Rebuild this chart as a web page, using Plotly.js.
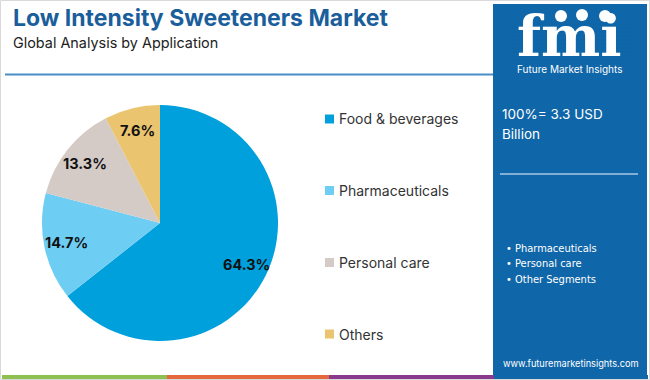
<!DOCTYPE html>
<html>
<head>
<meta charset="utf-8">
<script src="https://cdn.plot.ly/plotly-3.0.1.min.js"></script>
<style>html,body{margin:0;padding:0;background:#fff;}#chart{width:650px;height:380px;}</style>
</head>
<body>
<div id="chart"></div>
<script>
var categories = ["Food & beverages", "Pharmaceuticals", "Personal care", "Others"];
var shares = [64.3, 14.7, 13.3, 7.6];
var sliceColors = ["#00A0DC", "#6DCDF3", "#D5CBC6", "#EBC46F"];
var panelBullets = ["Pharmaceuticals", "Personal care", "Other Segments"];
var titleText = "Low Intensity Sweeteners Market";
var subtitleText = "Global Analysis by Application";
var totalLines = ["100%= 3.3 USD", "Billion"];

var W = 650, H = 380;
function px(x){ return x / W; }
function py(y){ return 1 - y / H; }

var panelBlue = "#0F66A8";
var FONT = "Inter, 'Open Sans', sans-serif";
var NARROW = "'Liberation Sans Narrow', 'DejaVu Sans Condensed', 'Open Sans', sans-serif";

// pie geometry (paper pixels)
var pieCx = 160, pieCy = 223, pieR = 118;
var labelFrac = 0.81;

var trace = {
  type: "pie",
  labels: categories,
  values: shares,
  marker: {colors: sliceColors, line: {width: 0}},
  sort: false,
  direction: "clockwise",
  rotation: 0,
  textinfo: "none",
  hoverinfo: "none",
  showlegend: false,
  domain: {x: [px(pieCx - pieR), px(pieCx + pieR)], y: [py(pieCy + pieR), py(pieCy - pieR)]}
};

var shapes = [];
var annotations = [];

// slice labels placed at the mid-angle of each slice
var total = shares.reduce(function(a, b){ return a + b; }, 0);
var cum = 0;
shares.forEach(function(v){
  var mid = (cum + v / 2) / total * 2 * Math.PI;
  cum += v;
  var x = pieCx + Math.sin(mid) * pieR * labelFrac;
  var y = pieCy - Math.cos(mid) * pieR * labelFrac;
  annotations.push({xref: "paper", yref: "paper", x: px(x), y: py(y), xanchor: "center", yanchor: "middle", showarrow: false, text: v.toFixed(1) + "%", font: {family: FONT, size: 14.5, color: "#111", weight: 700}});
});

// outer frame
shapes.push({type: "rect", xref: "paper", yref: "paper", x0: px(0.5), x1: px(649.5), y0: py(379.5), y1: py(0.5), line: {color: "#D9D9D9", width: 1}, layer: "below"});
// header separator
shapes.push({type: "line", xref: "paper", yref: "paper", x0: px(5), x1: px(493), y0: py(74.5), y1: py(74.5), line: {color: "#4A8DC8", width: 2}});
// bottom stripes
var stripes = [[2, 167, "#8CC152"], [167, 329, "#E4683B"], [329, 494, "#8A3A8D"], [494, 648, "#0F66A8"]];
stripes.forEach(function(s){
  shapes.push({type: "rect", xref: "paper", yref: "paper", x0: px(s[0]), x1: px(s[1]), y0: py(379), y1: py(375), line: {width: 0}, fillcolor: s[2]});
});
// right panel
shapes.push({type: "rect", xref: "paper", yref: "paper", x0: px(493), x1: px(647), y0: py(376), y1: py(4), line: {width: 0}, fillcolor: panelBlue, layer: "below"});
// panel separator
shapes.push({type: "line", xref: "paper", yref: "paper", x0: px(500), x1: px(638), y0: py(174), y1: py(174), line: {color: "#A9C9E6", width: 1.5}});

// title / subtitle
annotations.push({xref: "paper", yref: "paper", x: px(11), y: py(18), xanchor: "left", yanchor: "middle", showarrow: false, text: titleText, font: {family: FONT, size: 23, color: "#1A5E9C", weight: 700}});
annotations.push({xref: "paper", yref: "paper", x: px(11), y: py(42), xanchor: "left", yanchor: "middle", showarrow: false, text: subtitleText, font: {family: FONT, size: 14.4, color: "#222"}});

// legend
var legendY = [119, 190.5, 262.5, 334];
categories.forEach(function(c, i){
  var y = legendY[i];
  shapes.push({type: "rect", xref: "paper", yref: "paper", x0: px(325), x1: px(334), y0: py(y + 4.5), y1: py(y - 4.5), line: {width: 0}, fillcolor: sliceColors[i]});
  annotations.push({xref: "paper", yref: "paper", x: px(337), y: py(y), xanchor: "left", yanchor: "middle", showarrow: false, text: c, font: {family: FONT, size: 14, color: "#333"}});
});

// logo
annotations.push({xref: "paper", yref: "paper", x: px(569), y: py(36), xanchor: "center", yanchor: "middle", showarrow: false, text: "fmi", font: {family: "'DejaVu Serif', serif", size: 56, color: "#FFFFFF", weight: 700}});
for (var ly = 24; ly <= 60; ly += 4) {
  shapes.push({type: "line", xref: "paper", yref: "paper", x0: px(510), x1: px(630), y0: py(ly), y1: py(ly), line: {color: panelBlue, width: 1.2}, layer: "above"});
}
[[561, 16], [582, 15], [605, 16]].forEach(function(c){
  shapes.push({type: "circle", xref: "paper", yref: "paper", x0: px(c[0] - 6), x1: px(c[0] + 6), y0: py(c[1] + 6), y1: py(c[1] - 6), line: {width: 0}, fillcolor: "#FFFFFF"});
});
annotations.push({xref: "paper", yref: "paper", x: px(569), y: py(69), xanchor: "center", yanchor: "middle", showarrow: false, text: "Future Market Insights", font: {family: FONT, size: 10, color: "#FFFFFF"}});

// panel texts
var totalY = [114, 133.5];
totalLines.forEach(function(t, i){
  annotations.push({xref: "paper", yref: "paper", x: px(500), y: py(totalY[i]), xanchor: "left", yanchor: "middle", showarrow: false, text: t, font: {family: FONT, size: 13.5, color: "#FFFFFF"}});
});
var bulletY = [248, 263.5, 279.5];
panelBullets.forEach(function(b, i){
  annotations.push({xref: "paper", yref: "paper", x: px(504), y: py(bulletY[i]), xanchor: "left", yanchor: "middle", showarrow: false, text: "• " + b, font: {family: NARROW, size: 11, color: "#FFFFFF"}});
});
annotations.push({xref: "paper", yref: "paper", x: px(570), y: py(363), xanchor: "center", yanchor: "middle", showarrow: false, text: "www.futuremarketinsights.com", font: {family: FONT, size: 9.2, color: "#FFFFFF"}});

var layout = {
  width: W, height: H,
  margin: {l: 0, r: 0, t: 0, b: 0},
  paper_bgcolor: "#FFFFFF",
  showlegend: false,
  shapes: shapes,
  annotations: annotations
};

Plotly.newPlot("chart", [trace], layout, {displayModeBar: false, staticPlot: true});
</script>
</body>
</html>
